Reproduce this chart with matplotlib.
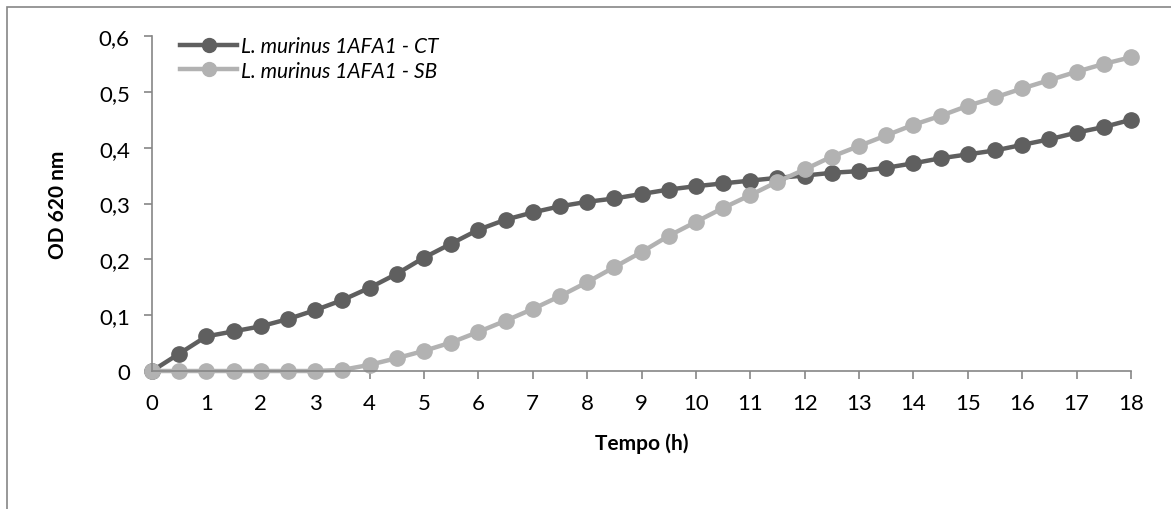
import matplotlib.pyplot as plt
from matplotlib.patches import Rectangle
from matplotlib.ticker import FuncFormatter, MultipleLocator

# growth curves, OD 620 nm read every 30 min
tempo = [i * 0.5 for i in range(37)]

od_ct = [0.000, 0.031, 0.062, 0.071, 0.080, 0.093, 0.109, 0.127, 0.149,
         0.174, 0.203, 0.228, 0.253, 0.271, 0.284, 0.295, 0.303, 0.309,
         0.317, 0.325, 0.331, 0.336, 0.341, 0.346, 0.350, 0.355, 0.358,
         0.364, 0.372, 0.381, 0.388, 0.395, 0.405, 0.415, 0.427, 0.437,
         0.450]

od_sb = [0.000, 0.000, 0.000, 0.000, 0.000, 0.000, 0.000, 0.002, 0.011,
         0.023, 0.036, 0.051, 0.070, 0.090, 0.111, 0.134, 0.159, 0.186,
         0.213, 0.242, 0.267, 0.292, 0.315, 0.339, 0.361, 0.384, 0.403,
         0.422, 0.441, 0.457, 0.475, 0.490, 0.506, 0.521, 0.536, 0.550,
         0.562]

labels = ['L. murinus 1AFA1 - CT', 'L. murinus 1AFA1 - SB']

plt.rcParams['font.family'] = ['Lato', 'DejaVu Sans']

W, H = 1171, 510
fig = plt.figure(figsize=(W / 100, H / 100), dpi=100)
ax = fig.add_axes([152 / W, 1 - 372 / H, (1131 - 152) / W, (372 - 37) / H])

# outer chart frame (only top and left edges are inside the image)
fig.patches.append(Rectangle((7 / W, -0.1), 1.2, 1 - 8 / H + 0.1,
                             transform=fig.transFigure, fill=False,
                             edgecolor='#868686', linewidth=1.2))

ax.plot(tempo, od_ct, color='#5f5f5f', linewidth=3.2, marker='o',
        markersize=11, label=labels[0], clip_on=False)
ax.plot(tempo, od_sb, color='#b2b2b2', linewidth=3.2, marker='o',
        markersize=11, label=labels[1], clip_on=False)

ax.set_xlim(0, 18)
ax.set_ylim(0, 0.6)
ax.xaxis.set_major_locator(MultipleLocator(1))
ax.yaxis.set_major_locator(MultipleLocator(0.1))


def comma(v, pos):
    if abs(v) < 1e-9:
        return '0'
    return f'{v:.1f}'.replace('.', ',')


ax.yaxis.set_major_formatter(FuncFormatter(comma))
ax.xaxis.set_major_formatter(FuncFormatter(lambda v, p: f'{v:.0f}'))

for side in ['top', 'right']:
    ax.spines[side].set_visible(False)
for side in ['left', 'bottom']:
    ax.spines[side].set_color('#868686')
    ax.spines[side].set_linewidth(1.2)

ax.tick_params(axis='both', colors='#868686', labelcolor='black',
               labelsize=16, direction='out', length=6, width=1.2)
ax.tick_params(axis='x', pad=10)
ax.tick_params(axis='y', pad=10)

ax.set_xlabel('Tempo (h)', fontsize=15, fontweight='bold', labelpad=14)
ax.set_ylabel('OD 620 nm', fontsize=15, fontweight='bold', labelpad=22)

leg = ax.legend(loc='upper left', bbox_to_anchor=(170 / W, 1 - 27 / H),
                bbox_transform=fig.transFigure, frameon=False,
                handlelength=2.7, handletextpad=0.2, labelspacing=0.2,
                borderpad=0, prop={'style': 'italic', 'size': 15})
for line in leg.get_lines():
    line.set_markersize(10)

fig.savefig('out.png', dpi=100)
